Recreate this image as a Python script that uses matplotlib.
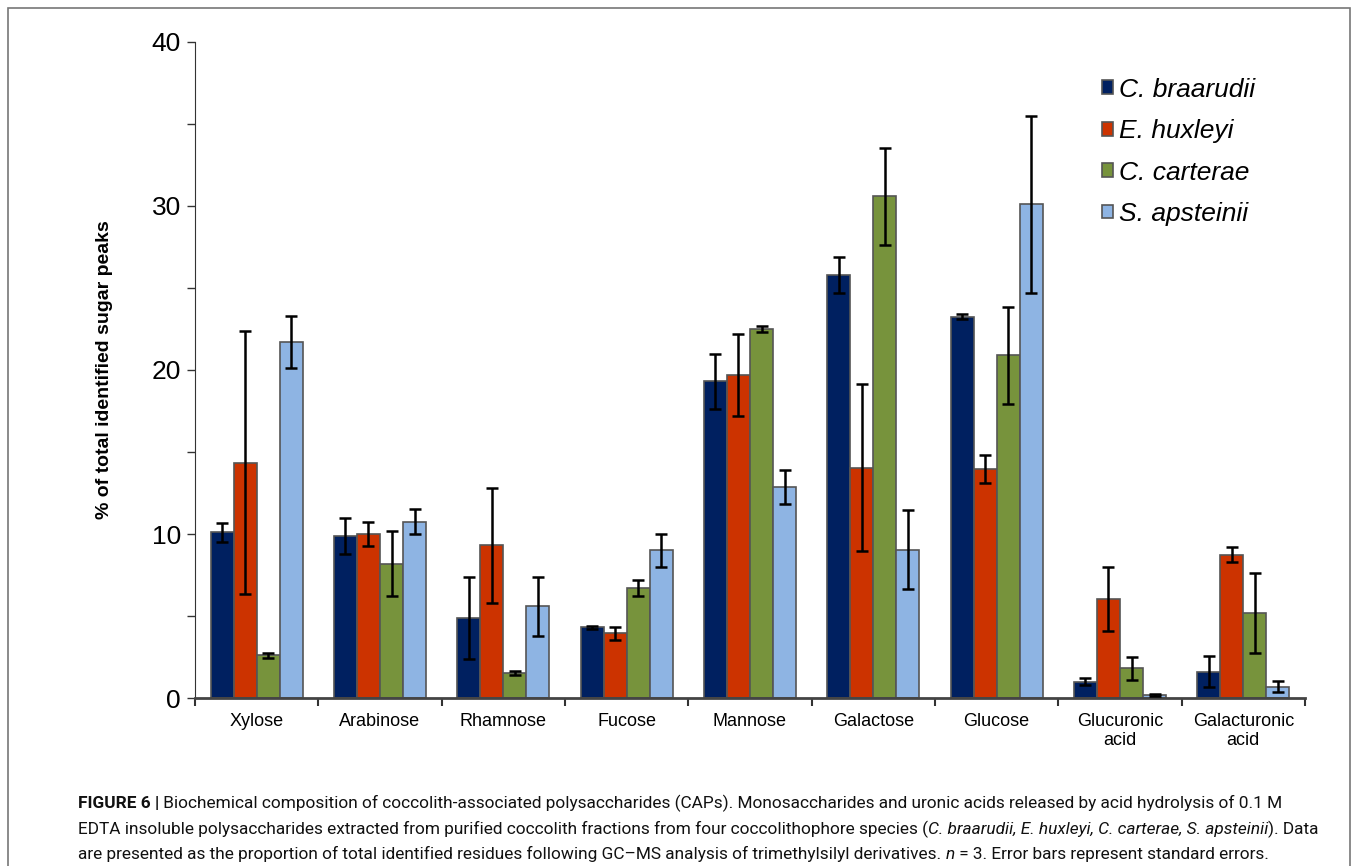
import matplotlib
matplotlib.use('Agg')
import matplotlib.pyplot as plt
import numpy as np
from matplotlib.patches import Rectangle, Patch

categories = ['Xylose', 'Arabinose', 'Rhamnose', 'Fucose', 'Mannose',
              'Galactose', 'Glucose', 'Glucuronic\nacid', 'Galacturonic\nacid']
species = ['C. braarudii', 'E. huxleyi', 'C. carterae', 'S. apsteinii']

c_braarudii = [10.1, 9.9, 4.85, 4.3, 19.3, 25.8, 23.25, 1.0, 1.6]
c_braarudii_se = [0.6, 1.1, 2.5, 0.12, 1.7, 1.1, 0.15, 0.2, 0.95]
e_huxleyi = [14.35, 10.0, 9.3, 3.95, 19.7, 14.05, 13.95, 6.05, 8.75]
e_huxleyi_se = [8.0, 0.75, 3.5, 0.4, 2.5, 5.1, 0.85, 1.95, 0.45]
c_carterae = [2.6, 8.2, 1.55, 6.7, 22.5, 30.6, 20.9, 1.8, 5.2]
c_carterae_se = [0.15, 2.0, 0.12, 0.5, 0.2, 2.95, 2.95, 0.7, 2.45]
s_apsteinii = [21.7, 10.75, 5.6, 9.0, 12.85, 9.05, 30.1, 0.2, 0.7]
s_apsteinii_se = [1.6, 0.75, 1.8, 1.0, 1.05, 2.4, 5.4, 0.05, 0.35]

series = [c_braarudii, e_huxleyi, c_carterae, s_apsteinii]
errors = [c_braarudii_se, e_huxleyi_se, c_carterae_se, s_apsteinii_se]
colors = ['#002060', '#CC3300', '#77933C', '#8EB4E3']

plt.rcParams['font.family'] = ['Liberation Sans', 'DejaVu Sans']

W, H = 1358, 866
fig = plt.figure(figsize=(W / 100, H / 100), dpi=100)

# outer frame
fig.patches.append(Rectangle((8 / W, -0.05), (1350 - 8) / W, 1.05 - 8 / H,
                             transform=fig.transFigure, fill=False,
                             edgecolor='#777777', linewidth=1.2))

ax = fig.add_axes([195 / W, 1 - 698 / H, (1305 - 195) / W, (698 - 42) / H])

x = np.arange(len(categories))
bw = 0.187
for i, (vals, errs, col) in enumerate(zip(series, errors, colors)):
    pos = x + (i - 1.5) * bw
    ax.bar(pos, vals, bw, color=col, edgecolor='#555555', linewidth=1.2, zorder=2)
    ax.errorbar(pos, vals, yerr=errs, fmt='none', ecolor='black',
                elinewidth=1.8, capsize=4, capthick=1.8, zorder=3)

ax.set_xlim(-0.5, len(categories) - 0.5)
ax.set_ylim(0, 40)
ax.set_yticks([0, 10, 20, 30, 40])
ax.set_yticks([5, 15, 25, 35], minor=True)
ax.tick_params(axis='y', which='both', direction='out', length=6, width=1,
               color='#333333', labelsize=19, pad=4)
ax.set_xticks(x)
ax.set_xticklabels(categories, fontsize=13, linespacing=1.15)
ax.set_xticks(np.arange(-0.5, len(categories)), minor=True)
ax.tick_params(axis='x', which='major', length=0, pad=11)
ax.tick_params(axis='x', which='minor', direction='out', length=6, width=1.5,
               color='#333333')
for s in ['top', 'right']:
    ax.spines[s].set_visible(False)
ax.spines['left'].set_color('#333333')
ax.spines['bottom'].set_color('#444444')
ax.spines['bottom'].set_linewidth(2)
ax.set_ylabel('% of total identified sugar peaks', fontsize=14, fontweight='bold',
              labelpad=28)

handles = [Patch(facecolor=c, edgecolor='#555555', linewidth=1.2) for c in colors]
leg = fig.legend(handles, species, loc='upper left',
                 bbox_to_anchor=(1078 / W, 1 - 54 / H), frameon=False,
                 prop={'size': 19, 'style': 'italic'},
                 handlelength=0.42, handleheight=0.42, handletextpad=0.25,
                 labelspacing=0.66)

# caption with rich text pieces
fig.canvas.draw()
renderer = fig.canvas.get_renderer()
cap_size = 12.4
cap_family = ['Roboto', 'DejaVu Sans']

lines = [
    [("FIGURE 6 |", 'bold', 'normal'),
     (" Biochemical composition of coccolith-associated polysaccharides (CAPs). Monosaccharides and uronic acids released by acid hydrolysis of 0.1 M", 'normal', 'normal')],
    [("EDTA insoluble polysaccharides extracted from purified coccolith fractions from four coccolithophore species (", 'normal', 'normal'),
     ("C. braarudii, E. huxleyi, C. carterae, S. apsteinii", 'normal', 'italic'),
     ("). Data", 'normal', 'normal')],
    [("are presented as the proportion of total identified residues following GC\u2013MS analysis of trimethylsilyl derivatives. ", 'normal', 'normal'),
     ("n", 'normal', 'italic'),
     (" = 3. Error bars represent standard errors.", 'normal', 'normal')],
]
line_y = [808, 834, 859]
for pieces, yy in zip(lines, line_y):
    xp = 78
    for txt, wgt, sty in pieces:
        t = fig.text(xp / W, 1 - yy / H, txt, fontsize=cap_size, fontweight=wgt,
                     fontstyle=sty, family=cap_family, va='baseline', ha='left',
                     color='#111111')
        bb = t.get_window_extent(renderer=renderer)
        xp += bb.width

fig.savefig('out.png', dpi=100)
